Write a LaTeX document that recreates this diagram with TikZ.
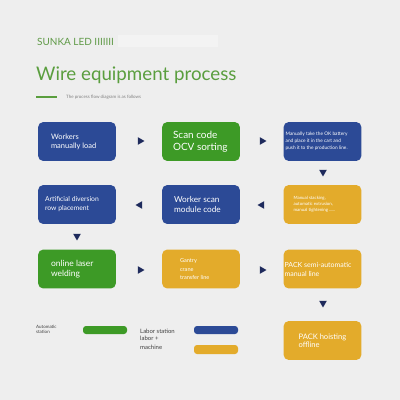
\documentclass[tikz,border=0pt]{standalone}
\usepackage{fontspec}
\setmainfont{Lato}
\usetikzlibrary{shapes.geometric, positioning}
\definecolor{bgGray}{HTML}{EEEEEE}
\definecolor{laborBlue}{HTML}{2C4A96}
\definecolor{autoGreen}{HTML}{3D9A26}
\definecolor{mixOrange}{HTML}{E3AB2B}
\definecolor{tipNavy}{HTML}{1E2A5C}
\definecolor{titleGreen}{HTML}{5A9E3E}
\newcommand{\fs}[2]{\fontsize{#1}{#2}\selectfont}
% one process box: name, x, y, colour, left inset, font size, line skip, text
\newcommand{\procbox}[8]{
	\node[procnode, fill=#4] (#1) at (#2, #3) {};
	\node[proctext, font=\fs{#6}{#7}] (#1-t) at ([xshift=#5]#1.west) {#8};
}
\tikzset{
	procnode/.style={rounded corners=5, minimum width=78, minimum height=39, inner sep=0},
	proctext/.style={anchor=west, text=white, align=left, inner sep=0},
	tipR/.style={regular polygon, regular polygon sides=3, fill=tipNavy,
		inner sep=0, minimum size=9, shape border rotate=-90},
	tipL/.style={tipR, shape border rotate=90},
	tipD/.style={tipR, shape border rotate=180},
	legbar/.style={rounded corners=3},
	legtext/.style={inner sep=0, align=left, text=darkgray}
}

\begin{document}
\begin{tikzpicture}[x=1bp, y=-1bp]
			\fill[bgGray] (0,0) rectangle (400,400);
			\useasboundingbox (0,0) rectangle (400,400);
			% heading
			\fill[white, opacity=0.3] (118,35) rectangle (218,47);
			\node[anchor=base west, inner sep=0, text=titleGreen!85!gray, font=\fs{10}{12}] (brand) at (37,45) {SUNKA LED IIIIIII};
			\node[anchor=base west, inner sep=0, text=titleGreen, font=\fs{18.8}{22}] (title) at (36,80) {Wire equipment process};
			\draw[titleGreen, line width=1.2] (36,97) -- (57,97);
			\node[anchor=west, inner sep=0, text=gray, font=\fs{4.5}{5}] (sub) at (66,97.5) {The process flow diagram is as follows};
			% first row
			\procbox{load}{77}{141.5}{laborBlue}{13}{7.5}{9}{Workers\\manually load}
			\procbox{scan}{201}{141.5}{autoGreen}{11}{10}{12}{Scan code\\OCV sorting}
			\procbox{cart}{322.5}{141.5}{laborBlue}{2}{4.8}{7}{Manually take the OK battery\\and place it in the cart and\\push it to the production line.}
			\node[tipR] (a1) at (140,141) {};
			\node[tipR] (a2) at (262,141) {};
			\node[tipD] (a3) at (323,172) {};
			% second row
			\procbox{divert}{77}{204.5}{laborBlue}{7}{6.8}{9}{Artificial diversion\\row placement}
			\procbox{module}{201}{204.5}{laborBlue}{12}{8.3}{10}{Worker scan\\module code}
			\procbox{stack}{322.5}{204.5}{mixOrange}{10}{4.4}{6.3}{Manual stacking,\\automatic extrusion,\\manual tightening ......}
			\node[tipL] (a4) at (140,205) {};
			\node[tipL] (a5) at (262,205) {};
			\node[tipD] (a6) at (77,236) {};
			% third row
			\procbox{laser}{77}{269}{autoGreen}{13}{8.5}{10}{online laser\\welding}
			\procbox{gantry}{201}{269}{mixOrange}{18}{5.6}{8.5}{Gantry\\crane\\transfer line}
			\procbox{semi}{322.5}{269}{mixOrange}{1}{7}{9}{PACK semi-automatic\\manual line}
			\node[tipR] (a7) at (140,270) {};
			\node[tipR] (a8) at (262,270) {};
			\node[tipD] (a9) at (323,303) {};
			% last box
			\procbox{hoist}{322.5}{340.5}{mixOrange}{15}{7.6}{8.5}{PACK hoisting\\offline}
			% legend
			\node[legtext, anchor=west, font=\fs{4.5}{5}] (lauto) at (36,329.5) {Automatic\\station};
			\fill[autoGreen, legbar] (83,326) rectangle (127,334);
			\node[legtext, anchor=base west, font=\fs{6}{9}] (llabor) at (140,333) {Labor station};
			\fill[laborBlue, legbar] (194,326) rectangle (238,334);
			\node[legtext, anchor=north west, font=\fs{6}{9}] (lmix) at (140,336) {labor +\\machine};
			\fill[mixOrange, legbar] (194,345) rectangle (238,354);
\end{tikzpicture}
\end{document}
